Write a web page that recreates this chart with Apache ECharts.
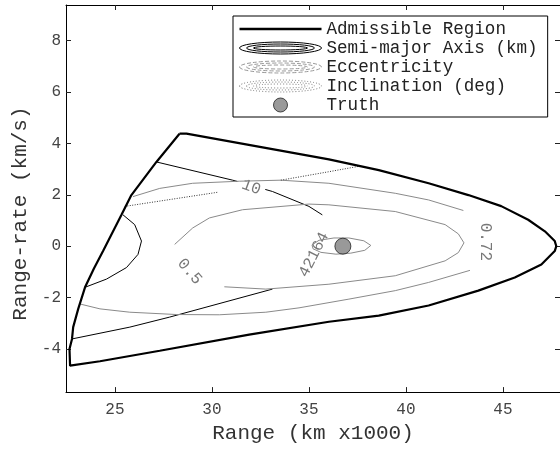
<!DOCTYPE html>
<html>
<head>
<meta charset="UTF-8">
<title>admissible region</title>
<script src="https://cdn.jsdelivr.net/npm/echarts@6/dist/echarts.min.js"></script>
<style>
  body { margin: 0; padding: 0; background: #fff; }
  #main { width: 560px; height: 449px; }
</style>
</head>
<body>
<div id="main"></div>
<script>
// axis ticks
const xTicks = [25, 30, 35, 40, 45];
const yTicks = [-4, -2, 0, 2, 4, 6, 8];

// admissible region boundary (range km x1000, range-rate km/s), closed
const admissible = [
  [28.33, 4.38], [28.69, 4.38], [33.47, 3.73], [36.03, 3.38], [38.60, 2.96],
  [41.17, 2.45], [43.22, 1.99], [44.91, 1.56], [46.30, 1.03], [47.16, 0.58],
  [47.67, 0.20], [47.75, 0.00], [47.67, -0.19], [46.98, -0.71], [45.61, -1.22],
  [43.73, -1.73], [41.17, -2.31], [38.60, -2.70], [36.03, -2.94], [31.92, -3.44],
  [27.31, -4.07], [24.23, -4.48], [22.69, -4.65], [22.66, -4.00], [22.79, -3.61],
  [22.85, -3.15], [23.11, -2.44], [23.46, -1.60], [23.92, -0.87], [24.39, -0.19],
  [25.34, 1.22], [25.85, 1.99], [27.14, 3.28], [28.33, 4.38]
];

// semi-major axis contours (black)
const semiMajor = [
  [[27.14, 3.28], [31.07, 2.57], [31.31, 2.52]],
  [[32.75, 2.21], [33.12, 2.13], [35.00, 1.55], [35.69, 1.22]],
  [[25.42, 1.22], [26.02, 0.84], [26.37, 0.20], [26.19, -0.32], [25.60, -0.83], [24.57, -1.28], [23.46, -1.60]],
  [[22.79, -3.61], [25.77, -3.15], [27.82, -2.76], [33.12, -1.67]]
];

// eccentricity contours (gray)
const eccentricity = [
  [[25.93, 1.93], [27.31, 2.25], [29.01, 2.45], [31.41, 2.53], [33.55, 2.57], [36.03, 2.45], [39.45, 2.06], [41.17, 1.80], [42.96, 1.39]],
  [[43.30, -0.94], [41.17, -1.41], [39.45, -1.73], [37.06, -2.06], [34.49, -2.40], [32.78, -2.57], [30.38, -2.67], [28.16, -2.66], [25.77, -2.57], [24.23, -2.44], [23.20, -2.25]],
  [[28.08, 0.07], [29.01, 0.71], [29.87, 1.10], [31.58, 1.42], [35.00, 1.64], [36.03, 1.61], [39.45, 1.35], [42.02, 0.84], [42.70, 0.48], [42.99, 0.13],
   [42.70, -0.25], [42.02, -0.57], [39.45, -1.15], [36.03, -1.48], [32.78, -1.67], [30.64, -1.58]],
  [[35.16, 0.05], [35.52, 0.23], [36.29, 0.32], [37.06, 0.32], [37.83, 0.21], [38.19, 0.03], [37.88, -0.16], [37.16, -0.27], [36.39, -0.31], [35.62, -0.24], [35.21, -0.10], [35.16, 0.05]]
];

// inclination contour (dotted)
const inclination = [
  [[25.51, 1.55], [30.30, 2.10]],
  [[33.55, 2.57], [36.03, 2.90], [37.72, 3.13]]
];

const truth = [[36.75, 0.0]];

// contour labels: text, x, y, rotation (deg)
const labelText = ['10', '0.5', '0.72', '42164'];
const labelPos = [[32.03, 2.29], [28.85, -0.99], [44.09, 0.17], [35.26, -0.33]];
const labelRot = [-20, -49, -90, 63];

const mono = 'Liberation Mono';
const names = ['Admissible Region', 'Semi-major Axis (km)', 'Eccentricity', 'Inclination (deg)', 'Truth'];

function ell(cx, cy, rx, ry) {
  return 'M' + (cx - rx) + ',' + cy + ' A' + rx + ',' + ry + ' 0 1,0 ' + (cx + rx) + ',' + cy +
    ' A' + rx + ',' + ry + ' 0 1,0 ' + (cx - rx) + ',' + cy + ' Z ';
}
const ringsIcon = 'path://' + ell(41, 6, 41, 6) + ell(41, 6, 34, 4) + ell(41, 6, 27, 2);

const series = [];
series.push({
  name: names[0], type: 'line', data: admissible, symbol: 'none', z: 5,
  lineStyle: { color: '#000', width: 2.2 }, itemStyle: { color: '#000' }
});
semiMajor.forEach(function (c) {
  series.push({
    name: names[1], type: 'line', data: c, symbol: 'none',
    lineStyle: { color: '#000', width: 1 }, itemStyle: { color: '#000' }
  });
});
eccentricity.forEach(function (c) {
  series.push({
    name: names[2], type: 'line', data: c, symbol: 'none',
    lineStyle: { color: '#8a8a8a', width: 1 }, itemStyle: { color: '#8a8a8a' }
  });
});
inclination.forEach(function (c) {
  series.push({
    name: names[3], type: 'line', data: c, symbol: 'none',
    lineStyle: { color: '#333', width: 1, type: [1, 1.5] }, itemStyle: { color: '#333' }
  });
});
series.push({
  name: names[4], type: 'scatter', data: truth, symbolSize: 16, z: 6,
  itemStyle: { color: '#808080', borderColor: '#222', borderWidth: 1 }
});
series.push({
  name: 'labels', type: 'scatter', symbolSize: 0, silent: true,
  data: labelText.map(function (t, i) {
    return { name: t, value: labelPos[i], label: { rotate: labelRot[i] } };
  }),
  label: {
    show: true, position: 'inside', formatter: '{b}',
    fontFamily: mono, fontSize: 16, color: '#555'
  }
});

const tickStyle = { show: true, inside: true, length: 5, lineStyle: { color: '#222' } };
const lineStyleAx = { show: true, onZero: false, lineStyle: { color: '#000', width: 1 } };

const chart = echarts.init(document.getElementById('main'));
chart.setOption({
  animation: false,
  backgroundColor: '#fff',
  grid: { left: 66, top: 5, width: 496, height: 391 },
  legend: {
    orient: 'vertical', left: 233, top: 16,
    padding: [4, 10, 3, 6], itemGap: 1, itemWidth: 82, itemHeight: 14,
    backgroundColor: '#fff', borderColor: '#000', borderWidth: 1, borderRadius: 0,
    textStyle: { fontFamily: mono, fontSize: 17.6, color: '#222' },
    selectedMode: false,
    data: [
      { name: names[0], icon: 'path://M0,0 L82,0 L82,2.4 L0,2.4 Z', itemStyle: { color: '#000' } },
      { name: names[1], icon: ringsIcon, itemStyle: { color: 'transparent', borderColor: '#000', borderWidth: 1 } },
      { name: names[2], icon: ringsIcon, itemStyle: { color: 'transparent', borderColor: '#999', borderWidth: 1, borderType: 'dashed' } },
      { name: names[3], icon: ringsIcon, itemStyle: { color: 'transparent', borderColor: '#777', borderWidth: 1, borderType: [1, 2] } },
      { name: names[4], icon: 'circle', itemStyle: { color: '#808080', borderColor: '#222', borderWidth: 1 } }
    ]
  },
  xAxis: [{
    type: 'value', min: 22.48, max: 47.94,
    name: 'Range (km x1000)', nameLocation: 'middle', nameGap: 30,
    nameTextStyle: { fontFamily: mono, fontSize: 21, color: '#333' },
    axisLine: lineStyleAx, splitLine: { show: false },
    axisTick: Object.assign({ customValues: xTicks }, tickStyle),
    axisLabel: { customValues: xTicks, fontFamily: mono, fontSize: 16, color: '#444', margin: 10 }
  }, {
    type: 'value', position: 'top', min: 22.48, max: 47.94,
    axisLine: lineStyleAx, splitLine: { show: false },
    axisTick: Object.assign({ customValues: xTicks }, tickStyle),
    axisLabel: { show: false }
  }],
  yAxis: [{
    type: 'value', min: -5.68, max: 9.39,
    name: 'Range-rate (km/s)', nameLocation: 'middle', nameGap: 34,
    nameTextStyle: { fontFamily: mono, fontSize: 21, color: '#333', padding: [0, 30, 0, 0] },
    axisLine: lineStyleAx, splitLine: { show: false },
    axisTick: Object.assign({ customValues: yTicks }, tickStyle),
    axisLabel: { customValues: yTicks, fontFamily: mono, fontSize: 16, color: '#444', margin: 5 }
  }, {
    type: 'value', position: 'right', min: -5.68, max: 9.39,
    axisLine: lineStyleAx, splitLine: { show: false },
    axisTick: Object.assign({ customValues: yTicks }, tickStyle),
    axisLabel: { show: false }
  }],
  series: series
});
</script>
</body>
</html>
